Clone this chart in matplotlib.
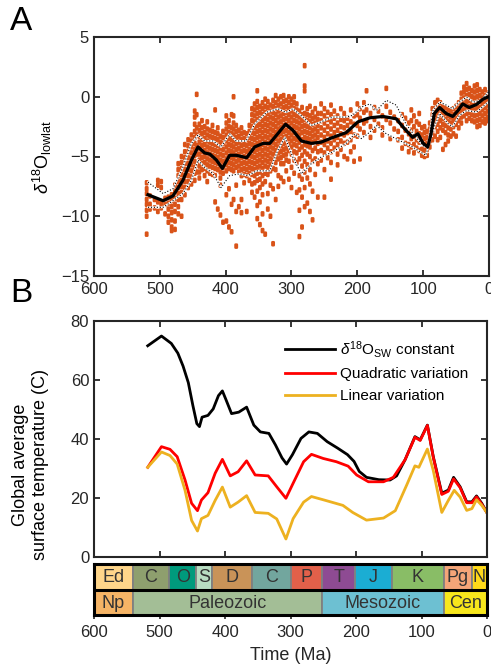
import numpy as np
import matplotlib
matplotlib.use("Agg")
import matplotlib.pyplot as plt
from matplotlib.patches import Rectangle
from matplotlib.path import Path

plt.rcParams['font.family'] = ['Liberation Sans', 'DejaVu Sans']
plt.rcParams['mathtext.fontset'] = 'custom'
plt.rcParams['mathtext.rm'] = 'Liberation Sans'
plt.rcParams['mathtext.it'] = 'Liberation Sans:italic'
plt.rcParams['mathtext.bf'] = 'Liberation Sans:bold'

# ---- Panel A: low latitude d18O observations (columns of points by age)
obs_age = [520, 515, 508, 503, 498, 492, 487, 482, 477, 472, 467, 462, 457, 452,
           447, 444, 440, 436, 432, 428, 424, 420, 416, 412, 408, 404, 399, 395,
           391, 388, 384, 380, 376, 372, 368, 364, 360, 356, 352, 348, 344, 340,
           336, 332, 328, 324, 320, 316, 312, 308, 304, 300, 296, 292, 288, 284,
           280, 276, 272, 268, 264, 260, 255, 250, 245, 240, 235, 230, 225, 220,
           215, 210, 205, 200, 196, 190, 186, 180, 174, 168, 162, 156, 150, 144,
           138, 132, 127, 122, 118, 114, 110, 106, 102, 98, 94, 90, 86, 82, 78,
           74, 70, 66, 62, 58, 54, 50, 46, 42, 38, 34, 30, 26, 22, 18, 14, 10, 6, 2]
obs_d18o = [
    [-7.2, -7.7, -8.1, -8.6, -9.0, -9.5, -10.0, -11.5],
    [-8.3, -9.0, -9.4],
    [-8.6, -9.3],
    [-7.0, -7.4, -8.8, -9.6],
    [-7.1, -7.6, -8.9, -9.3],
    [-8.5, -9.0, -9.8],
    [-8.4, -8.9, -9.4, -10.0, -10.5],
    [-8.2, -8.7, -9.2, -9.7, -10.3, -10.9, -11.2],
    [-7.4, -7.9, -8.5, -9.0, -9.6, -10.4, -11.1],
    [-5.6, -6.1, -6.6, -7.1, -7.6, -8.1, -8.6, -9.2, -9.8],
    [-5.0, -5.5, -6.0, -6.5, -7.0, -7.5, -8.0, -8.6, -10.0],
    [-4.0, -4.6, -5.1, -5.6, -6.1, -6.6, -7.1, -7.6, -8.2],
    [-3.6, -4.1, -4.6, -5.1, -5.6, -6.1, -6.6, -7.1, -7.6],
    [-3.2, -3.7, -4.2, -4.7, -5.2, -5.7, -6.2, -6.7, -7.3],
    [-1.2, -1.7, -2.3, -2.9, -3.4, -3.9, -4.4, -4.9, -5.4, -5.9, -6.4, -7.0],
    [0.2, -1.5, -2.6, -3.2, -4.1, -4.8, -5.6, -6.3],
    [-2.3, -2.8, -3.3, -3.8, -4.3, -4.8, -5.3, -5.8, -6.3, -6.8],
    [-2.0, -2.6, -3.1, -3.6, -4.1, -4.6, -5.1, -5.6, -6.1],
    [-2.5, -3.0, -3.5, -4.0, -4.5, -5.0, -5.5, -6.0, -6.6],
    [-2.1, -2.7, -3.2, -3.7, -4.2, -4.7, -5.2, -5.7, -6.2, -7.1],
    [-2.8, -3.3, -3.8, -4.3, -4.8, -5.3, -5.8, -6.4],
    [-2.4, -2.9, -3.4, -3.9, -4.4, -4.9, -5.4, -5.9, -6.5],
    [-1.1, -3.0, -3.5, -4.0, -4.5, -5.0, -5.5, -6.0, -6.6, -8.8],
    [-2.6, -3.1, -3.6, -4.1, -4.6, -5.1, -5.6, -6.1, -9.4],
    [-3.3, -3.8, -4.3, -4.8, -5.3, -5.8, -6.3, -6.8, -7.4, -9.9],
    [-2.9, -3.4, -3.9, -4.4, -4.9, -5.4, -5.9, -6.4, -10.5],
    [-1.6, -2.2, -2.7, -3.2, -3.7, -4.2, -4.7, -5.2, -5.7, -6.2, -8.2, -10.4],
    [-2.0, -2.5, -3.0, -3.5, -4.0, -4.5, -5.0, -5.5, -6.0, -7.7, -10.9],
    [-1.5, -2.6, -3.1, -3.6, -4.1, -4.6, -5.1, -5.6, -6.1, -9.0, -11.3],
    [0.0, -1.6, -2.2, -2.7, -3.2, -3.7, -4.2, -4.7, -5.2, -5.7, -6.2, -8.6],
    [-2.4, -2.9, -3.4, -3.9, -4.4, -4.9, -5.4, -5.9, -7.4, -9.6, -12.5],
    [-2.8, -3.3, -3.8, -4.3, -4.8, -5.3, -5.8, -6.3, -9.2],
    [-2.6, -3.1, -3.6, -4.1, -4.6, -5.1, -5.6, -6.1, -6.6, -8.6, -9.7],
    [-3.0, -3.5, -4.0, -4.5, -5.0, -5.5, -6.0, -6.5, -7.2],
    [-3.1, -3.6, -4.1, -4.6, -5.1, -5.6, -6.1, -6.6, -9.6],
    [-2.4, -2.9, -3.4, -3.9, -4.4, -4.9, -5.4, -5.9, -6.4, -7.0],
    [-1.0, -1.5, -2.0, -2.5, -3.0, -3.5, -4.0, -4.5, -5.0, -5.5, -6.0, -6.5, -7.3, -8.0],
    [-0.6, -1.1, -1.6, -2.1, -2.6, -3.1, -3.6, -4.1, -4.6, -5.1, -5.6, -6.1, -6.6, -7.2, -8.4],
    [0.5, -0.4, -0.9, -1.4, -1.9, -2.4, -2.9, -3.4, -3.9, -4.4, -4.9, -5.4, -5.9, -6.4, -7.0,
     -7.9, -9.1, -10.2],
    [-0.8, -1.3, -1.8, -2.3, -2.8, -3.3, -3.8, -4.3, -4.8, -5.3, -5.8, -6.3, -6.9, -7.6, -8.8,
     -10.7],
    [-0.5, -1.0, -1.5, -2.0, -2.5, -3.0, -3.5, -4.0, -4.5, -5.0, -5.5, -6.0, -6.6, -7.3, -8.2,
     -9.8, -11.2],
    [-0.2, -0.8, -1.3, -1.8, -2.3, -2.8, -3.3, -3.8, -4.3, -4.8, -5.3, -5.8, -6.4, -7.1, -11.5],
    [-0.4, -0.9, -1.4, -1.9, -2.4, -2.9, -3.4, -3.9, -4.4, -4.9, -5.4, -5.9, -6.5, -8.1, -9.4],
    [-0.7, -1.2, -1.7, -2.2, -2.7, -3.2, -3.7, -4.2, -4.7, -5.2, -5.7, -6.2, -7.4, -10.0],
    [-0.3, -0.8, -1.3, -1.8, -2.3, -2.8, -3.3, -3.8, -4.3, -4.8, -5.3, -6.0, -7.7, -12.3],
    [0.1, -0.5, -1.0, -1.5, -2.0, -2.5, -3.0, -3.5, -4.0, -4.5, -5.0, -5.5, -6.1, -8.6],
    [-0.2, -0.7, -1.2, -1.7, -2.2, -2.7, -3.2, -3.7, -4.2, -4.7, -5.2, -6.6, -7.5],
    [0.0, -0.6, -1.1, -1.6, -2.1, -2.6, -3.1, -3.6, -4.1, -4.6, -5.1, -5.6, -6.8],
    [0.1, -0.4, -0.9, -1.4, -1.9, -2.4, -2.9, -3.4, -3.9, -4.4, -4.9, -5.6, -7.1],
    [-0.3, -0.8, -1.3, -1.8, -2.3, -2.8, -3.3, -3.8, -4.3, -4.8, -5.3, -6.2],
    [0.0, -0.5, -1.0, -1.5, -2.0, -2.5, -3.0, -3.5, -4.0, -4.5, -5.4, -6.9],
    [-0.2, -0.7, -1.2, -1.7, -2.2, -2.7, -3.2, -3.7, -4.2, -4.8, -5.9, -7.6],
    [0.0, -0.5, -1.0, -1.5, -2.0, -2.5, -3.0, -3.5, -4.0, -4.6, -5.3, -6.4],
    [-0.6, -1.1, -1.6, -2.1, -2.6, -3.1, -3.6, -4.1, -4.7, -5.5, -8.0],
    [-1.2, -1.7, -2.2, -2.7, -3.2, -3.8, -4.4, -5.2, -6.6, -7.8, -9.5, -11.7],
    [-0.9, -1.5, -2.0, -2.5, -3.0, -3.6, -4.2, -4.9, -5.8, -6.9, -8.4, -10.9],
    [2.6, 0.9, 0.5, -1.4, -1.9, -2.4, -2.9, -3.4, -4.0, -4.6, -5.4, -6.3, -7.6, -9.2],
    [-1.0, -1.5, -2.0, -2.5, -3.0, -3.5, -4.1, -4.8, -5.7, -6.8, -8.9],
    [-0.8, -1.6, -2.1, -2.6, -3.1, -3.6, -4.2, -5.0, -6.1, -7.3, -9.6],
    [-1.3, -1.8, -2.3, -2.8, -3.3, -3.8, -4.5, -5.4, -7.9, -10.3],
    [-1.0, -1.7, -2.2, -2.7, -3.2, -3.7, -4.3, -5.2, -6.5],
    [-1.4, -1.9, -2.4, -2.9, -3.4, -3.9, -4.6, -5.6, -8.4],
    [-0.6, -1.4, -2.0, -2.6, -3.2, -3.8, -4.5, -5.3],
    [-1.0, -1.6, -2.2, -2.8, -3.4, -4.0, -4.7, -6.1, -8.4],
    [-1.3, -1.9, -2.5, -3.1, -3.7, -4.3, -5.1],
    [-0.7, -1.5, -2.1, -2.7, -3.3, -3.9, -4.6, -5.5, -6.9],
    [-1.2, -1.8, -2.4, -3.0, -3.6, -4.3],
    [-1.6, -2.2, -2.8, -3.4, -4.0, -4.8, -5.7],
    [-1.0, -1.9, -2.5, -3.1, -3.7, -4.4],
    [-1.4, -2.0, -2.6, -3.2, -3.9, -5.0],
    [-1.8, -2.4, -3.0, -3.8, -5.2],
    [-1.1, -2.1, -2.9, -3.6, -4.6],
    [-1.6, -2.3, -3.2, -4.2, -5.4],
    [-0.6, -1.5, -2.4, -3.3],
    [-1.0, -1.8, -2.7, -5.2],
    [-0.5, -1.3, -2.2, -3.0],
    [0.5, -1.1, -2.0],
    [-1.4, -2.5, -3.4],
    [-0.9, -1.9, -2.8],
    [-1.2, -2.3],
    [-1.6, -2.6, -3.2],
    [0.7, -0.8, -1.9],
    [-1.3, -2.2, -3.5],
    [-1.7, -2.7],
    [-2.0, -2.9, -3.6],
    [-1.5, -2.4, -3.4, -4.3],
    [-1.8, -2.8, -3.9],
    [-2.2, -3.1, -4.0, -4.6],
    [-1.1, -2.0, -2.8, -3.5, -4.2],
    [-1.6, -2.5, -3.3, -4.0, -4.7],
    [-2.1, -2.9, -3.6, -4.3],
    [-1.4, -2.3, -3.1, -3.8, -4.5],
    [-2.6, -3.2, -3.8, -4.4, -4.9],
    [-2.5, -3.0, -3.5, -4.0, -4.5, -5.0],
    [-2.9, -3.4, -3.9, -4.4, -4.9],
    [-2.2, -2.7, -3.2, -3.7, -4.2],
    [-1.0, -1.5, -2.0, -2.5, -3.0, -3.6],
    [-0.5, -1.0, -1.5, -2.0, -2.5, -3.3],
    [-0.3, -0.8, -1.3, -1.8, -2.3, -2.9, -3.6],
    [-0.5, -1.0, -1.5, -2.0, -2.6, -3.4],
    [-0.8, -1.3, -1.8, -2.3, -2.8, -4.4],
    [-0.9, -1.4, -1.9, -2.4, -3.0, -4.0],
    [-1.1, -1.6, -2.1, -2.6, -3.2, -3.7],
    [-1.2, -1.7, -2.2, -2.7, -3.3],
    [-1.0, -1.5, -2.0, -2.5, -3.1],
    [-0.8, -1.3, -1.8, -2.3, -3.3],
    [-0.5, -1.0, -1.5, -2.0, -2.6],
    [0.3, -0.2, -0.7, -1.2, -1.7, -2.2],
    [0.8, 0.4, -0.1, -0.6, -1.1, -1.6],
    [1.1, 0.6, 0.1, -0.4, -0.9, -1.4, -2.0],
    [0.7, 0.2, -0.3, -0.8, -1.3, -1.8],
    [0.5, 0.0, -0.5, -1.0, -1.5, -2.0],
    [0.9, 0.4, -0.1, -0.6, -1.1, -1.6, -2.1],
    [1.0, 0.5, 0.0, -0.5, -1.0, -1.5, -2.0, -2.5],
    [0.6, 0.1, -0.4, -0.9, -1.4, -1.9, -2.4],
    [0.4, -0.1, -0.6, -1.1, -1.6, -2.1],
    [0.6, 0.1, -0.4, -0.9, -1.4, -1.9, -2.2],
    [0.3, -0.2, -0.7, -1.2, -1.7, -2.0],
]

# smoothed mean and its envelope
mean_age = [518, 495, 480, 465, 452, 442, 432, 424, 414, 405, 394, 384, 368, 356, 343,
            333, 321, 309, 298, 285, 270, 255, 237, 217, 199, 181, 161, 141, 128, 116,
            108, 100, 93, 88, 83, 75, 65, 55, 47, 40, 30, 19, 9, 1]
mean_d18o = [-8.2, -8.7, -8.3, -7.0, -5.3, -4.2, -4.7, -4.8, -5.3, -6.0, -4.9, -4.9,
             -5.1, -4.2, -3.9, -3.9, -3.1, -2.3, -2.8, -3.7, -3.9, -3.8, -3.4, -3.0,
             -2.1, -1.76, -1.65, -1.84, -2.7, -3.4, -3.1, -3.9, -4.2, -3.1, -1.4, -0.9,
             -1.4, -1.65, -1.15, -0.6, -0.9, -0.65, -0.2, 0.0]
upper_age = [518, 495, 480, 465, 452, 442, 432, 419, 407, 394, 384, 369, 356, 338, 321,
             308, 298, 285, 270, 255, 237, 217, 207, 194, 181, 171, 156, 141, 126, 111,
             100, 93, 85, 75, 65, 55, 45, 34, 24, 11, 1]
upper_d18o = [-7.15, -8.1, -7.7, -5.9, -3.9, -3.2, -3.7, -3.7, -4.2, -3.1, -3.7, -3.7,
              -2.3, -1.3, -1.0, -1.3, -1.0, -1.6, -2.4, -2.1, -1.7, -1.7, -1.55, -0.87,
              -0.6, -1.15, -0.3, -0.7, -2.3, -3.4, -4.1, -4.2, -1.15, -0.45, -0.7, -1.0,
              -0.45, -0.03, -0.45, -0.3, 0.4]
lower_age = [518, 495, 480, 465, 452, 442, 432, 419, 407, 394, 379, 366, 353, 333, 321,
             310, 298, 285, 270, 255, 237, 217, 204, 194, 181, 171, 156, 136, 116, 96,
             85, 75, 62, 55, 45, 34, 19, 1]
lower_d18o = [-9.25, -9.25, -8.7, -8.1, -7.0, -5.3, -5.9, -6.45, -7.6, -6.6, -6.45, -6.6,
              -6.2, -6.2, -4.5, -3.4, -5.05, -6.45, -5.6, -5.05, -4.6, -3.9, -3.1, -3.5,
              -2.96, -2.4, -3.1, -3.66, -4.2, -4.9, -2.8, -1.4, -2.26, -2.5, -1.56, -1.15,
              -1.28, -0.45]

# ---- Panel B: global average surface temperature
const_age = [518, 497, 482, 472, 464, 456, 449, 443, 439, 435, 426, 418, 410, 404, 399,
             390, 379, 367, 356, 346, 333, 323, 313, 306, 297, 284, 272, 259, 244, 228,
             213, 203, 195, 184, 165, 148, 138, 125, 110, 102, 91, 82, 69, 59, 51, 41,
             31, 23, 16, 8, 0]
const_temp = [71.6, 74.9, 72.4, 69.1, 64.7, 59.1, 51.3, 45.2, 44.2, 47.4, 48.0, 50.2,
              54.7, 56.3, 53.6, 48.6, 49.1, 50.8, 44.7, 42.4, 41.9, 38.0, 33.6, 31.5,
              34.7, 40.2, 42.4, 41.9, 39.1, 36.9, 34.7, 32.4, 29.0, 27.0, 26.2, 26.1,
              27.5, 33.0, 40.8, 39.7, 44.7, 34.0, 21.6, 22.7, 27.0, 23.8, 18.7, 18.7,
              20.7, 18.2, 15.0]
quad_age = [518, 497, 484, 473, 461, 451, 442, 436, 426, 415, 404, 392, 380, 367, 354,
            334, 321, 307, 296, 280, 268, 250, 230, 212, 199, 181, 158, 143, 125, 110,
            102, 91, 82, 69, 59, 51, 41, 31, 23, 16, 8, 0]
quad_temp = [30.4, 37.4, 36.5, 34.0, 26.1, 18.2, 15.7, 19.3, 21.8, 28.4, 33.1, 27.5,
             28.9, 32.6, 27.8, 27.5, 23.8, 19.9, 25.0, 32.3, 34.8, 33.4, 32.3, 30.8,
             27.8, 25.5, 25.5, 27.0, 33.0, 40.6, 39.5, 44.6, 33.8, 21.2, 22.3, 26.5,
             23.5, 18.4, 18.4, 20.4, 17.9, 15.0]
lin_age = [518, 497, 484, 473, 461, 451, 442, 436, 426, 415, 404, 392, 380, 367, 354,
           334, 321, 307, 296, 280, 268, 250, 220, 205, 184, 158, 140, 122, 110, 104,
           91, 82, 69, 59, 50, 41, 31, 23, 16, 8, 0]
lin_temp = [30.4, 35.6, 34.4, 31.5, 22.6, 12.4, 8.8, 13.0, 14.1, 19.2, 23.7, 16.9,
            18.6, 20.8, 15.1, 14.8, 12.9, 6.1, 13.0, 18.6, 20.5, 19.4, 17.5, 15.1, 12.5,
            13.2, 15.7, 24.7, 30.9, 30.4, 36.6, 29.3, 15.1, 19.2, 22.6, 20.3, 15.8,
            16.4, 19.4, 17.5, 15.0]

# ---- geologic time scale
period_names = ['Ed', 'C', 'O', 'S', 'D', 'C', 'P', 'T', 'J', 'K', 'Pg', 'N']
period_start = [600, 541, 485.4, 443.8, 419.2, 358.9, 298.9, 251.9, 201.3, 145, 66, 23]
period_end = [541, 485.4, 443.8, 419.2, 358.9, 298.9, 251.9, 201.3, 145, 66, 23, 0]
period_colors = ['#FED58A', '#8E9F6E', '#009A7C', '#B8DDC2', '#C99358', '#72A69E',
                 '#E2604A', '#8E4B93', '#1BADD3', '#89BD66', '#F5A578', '#FFD91A']
era_names = ['Np', 'Paleozoic', 'Mesozoic', 'Cen']
era_start = [600, 541, 251.9, 66]
era_end = [541, 251.9, 66, 0]
era_colors = ['#F5B466', '#A3BE96', '#6DC0D2', '#F7E61C']

x_ticks = [600, 500, 400, 300, 200, 100, 0]

W, H = 491, 670
fig = plt.figure(figsize=(W / 100, H / 100), dpi=100)

axis_col = '#262626'


def style_axes(ax):
    for s in ax.spines.values():
        s.set_linewidth(1.5)
        s.set_color(axis_col)
    ax.tick_params(direction='in', length=4, width=1.3, colors=axis_col,
                   labelcolor='#262626', labelsize=12, top=True, right=True)


# slightly tall rounded marker so stacked points merge into streaks
streak = Path([(-0.55, -0.9), (-0.3, -1.0), (0.3, -1.0), (0.55, -0.9), (0.7, -0.6),
               (0.7, 0.6), (0.55, 0.9), (0.3, 1.0), (-0.3, 1.0), (-0.55, 0.9),
               (-0.7, 0.6), (-0.7, -0.6), (-0.55, -0.9)])

# ---- Panel A
axA = fig.add_axes([94 / W, 1 - 276 / H, 395 / W, 239 / H])
px = np.concatenate([[a] * len(v) for a, v in zip(obs_age, obs_d18o)])
py = np.concatenate(obs_d18o)
axA.scatter(px, py, s=16, marker=streak, color='#D95319', edgecolors='none', zorder=1)
for ages, vals in [(upper_age, upper_d18o), (lower_age, lower_d18o)]:
    axA.plot(ages, vals, color='white', lw=1.4, zorder=2)
    axA.plot(ages, vals, color='k', lw=0.8, ls=':', zorder=3)
axA.plot(mean_age, mean_d18o, color='k', lw=2.3, zorder=4)
axA.set_xlim(600, 0)
axA.set_ylim(-15, 5)
axA.set_xticks(x_ticks)
axA.set_yticks([-15, -10, -5, 0, 5])
style_axes(axA)
axA.tick_params(axis='x', pad=4)
axA.set_ylabel(r'$\delta^{18}\mathrm{O}_{\mathrm{lowlat}}$', fontsize=13)
axA.yaxis.set_label_coords(-0.10, 0.5)

# ---- Panel B
axB = fig.add_axes([94 / W, 1 - 557 / H, 393 / W, 236 / H])
axB.plot(const_age, const_temp, color='k', lw=2, label=r'$\delta^{18}\mathrm{O}_{\mathrm{SW}}$ constant')
axB.plot(quad_age, quad_temp, color='#FF0000', lw=2, label='Quadratic variation')
axB.plot(lin_age, lin_temp, color='#EDB120', lw=2, label='Linear variation')
axB.set_xlim(600, 0)
axB.set_ylim(0, 80)
axB.set_xticks(x_ticks)
axB.set_yticks([0, 20, 40, 60, 80])
style_axes(axB)
axB.tick_params(axis='x', labelbottom=False)
axB.set_ylabel('Global average\nsurface temperature (C)', fontsize=13, linespacing=1.2)
axB.yaxis.set_label_coords(-0.115, 0.39)
axB.legend(loc='upper left', bbox_to_anchor=(0.485, 0.925), frameon=False, fontsize=11,
           handlelength=3.3, handletextpad=0.3, borderaxespad=0, borderpad=0,
           labelspacing=0.5)

# ---- time scale bar
axT = fig.add_axes([94 / W, 1 - 615 / H, 393 / W, 51 / H])
axT.set_xlim(600, 0)
axT.set_ylim(0, 2)
for name, a0, a1, c in zip(period_names, period_start, period_end, period_colors):
    axT.add_patch(Rectangle((a1, 1), a0 - a1, 1, facecolor=c, edgecolor='#808080', lw=1.3))
    axT.text((a0 + a1) / 2, 1.47, name, ha='center', va='center', fontsize=13, color='#333333')
for name, a0, a1, c in zip(era_names, era_start, era_end, era_colors):
    axT.add_patch(Rectangle((a1, 0), a0 - a1, 1, facecolor=c, edgecolor='#808080', lw=1.3))
    axT.text((a0 + a1) / 2, 0.47, name, ha='center', va='center', fontsize=13, color='#333333')
axT.axhline(1, color='k', lw=2.2)
for s in axT.spines.values():
    s.set_linewidth(2.2)
    s.set_color('k')
axT.set_xticks(x_ticks)
axT.set_yticks([])
axT.tick_params(axis='x', direction='out', length=3, width=1.2, labelsize=12,
                colors=axis_col, pad=4)
axT.set_xlabel('Time (Ma)', fontsize=13, color='#262626')
axT.xaxis.set_label_coords(0.5, -0.62)

fig.text(10 / W, 1 - 21 / H, 'A', fontsize=24, ha='left', va='center')
fig.text(10 / W, 1 - 293 / H, 'B', fontsize=24, ha='left', va='center')

fig.savefig('out.png', dpi=100)
